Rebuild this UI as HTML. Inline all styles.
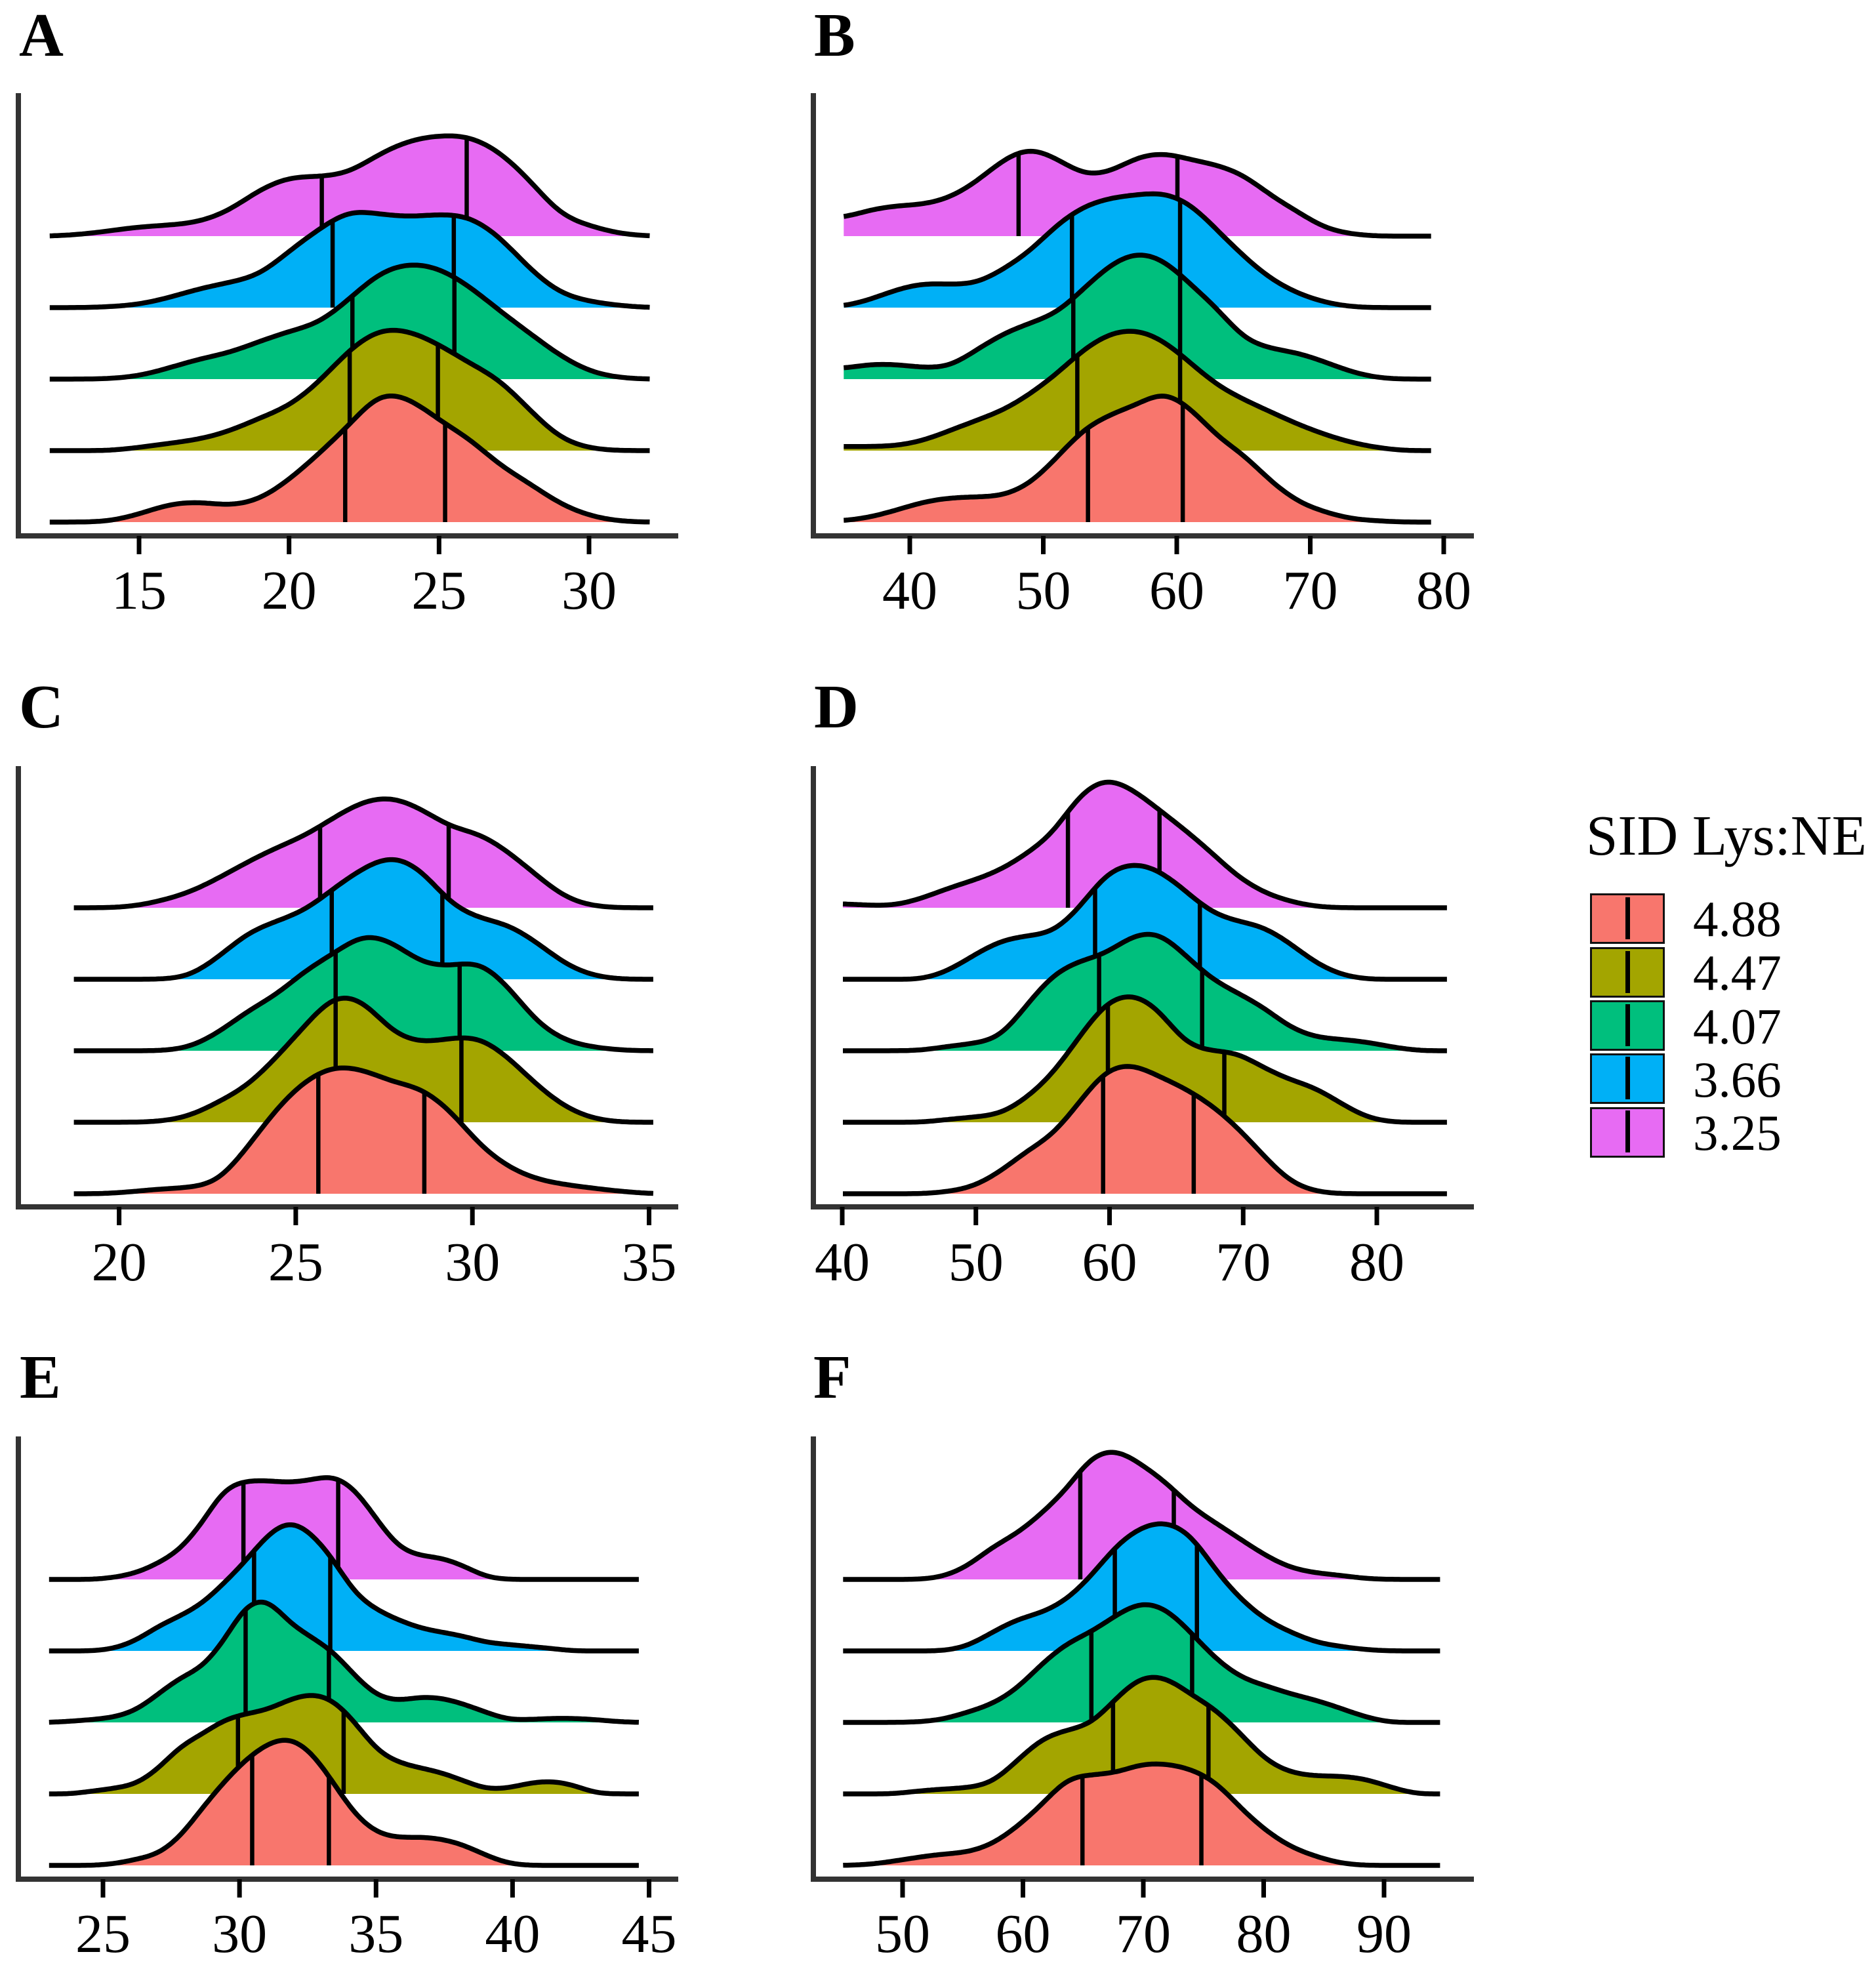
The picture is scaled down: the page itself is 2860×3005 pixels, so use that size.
<!DOCTYPE html>
<html lang="en">
<head>
<meta charset="utf-8">
<title>SID Lys:NE ridgeline panels</title>
<style>
html,body{margin:0;padding:0;background:#fff;}
svg{display:block;}
text{font-family:"Liberation Serif",serif;fill:#000;}
</style>
</head>
<body>
<svg id="chart" xmlns="http://www.w3.org/2000/svg" width="2860" height="3005" viewBox="0 0 2860 3005">
  <rect x="0" y="0" width="2860" height="3005" fill="#fff"/>
  <text x="29" y="85" font-size="94" font-weight="bold">A</text>
  <text x="1241" y="85" font-size="94" font-weight="bold">B</text>
  <text x="29" y="1109" font-size="94" font-weight="bold">C</text>
  <text x="1241" y="1109" font-size="94" font-weight="bold">D</text>
  <text x="30" y="2131" font-size="94" font-weight="bold">E</text>
  <text x="1240" y="2131" font-size="94" font-weight="bold">F</text>
  <g id="panels"></g>
  <g>
    <text x="2418" y="1303" font-size="87">SID Lys:NE</text>
    <g>
      <rect x="2425.5" y="1363.5" width="111" height="74" fill="#F8766D" stroke="#111" stroke-width="3"/>
      <rect x="2478" y="1368" width="7" height="64" fill="#000"/>
      <text x="2581" y="1427" font-size="77">4.88</text>
    </g>
    <g>
      <rect x="2425.5" y="1445.5" width="111" height="74" fill="#A3A500" stroke="#111" stroke-width="3"/>
      <rect x="2478" y="1450" width="7" height="64" fill="#000"/>
      <text x="2581" y="1509" font-size="77">4.47</text>
    </g>
    <g>
      <rect x="2425.5" y="1526.5" width="111" height="74" fill="#00BF7D" stroke="#111" stroke-width="3"/>
      <rect x="2478" y="1531" width="7" height="64" fill="#000"/>
      <text x="2581" y="1591" font-size="77">4.07</text>
    </g>
    <g>
      <rect x="2425.5" y="1607.5" width="111" height="74" fill="#00B0F6" stroke="#111" stroke-width="3"/>
      <rect x="2478" y="1611" width="7" height="65" fill="#000"/>
      <text x="2581" y="1672" font-size="77">3.66</text>
    </g>
    <g>
      <rect x="2425.5" y="1689.5" width="111" height="74" fill="#E76BF3" stroke="#111" stroke-width="3"/>
      <rect x="2478" y="1693" width="7" height="64" fill="#000"/>
      <text x="2581" y="1753" font-size="77">3.25</text>
    </g>
  </g>
</svg>
<script>
// Series (drawn back to front) and colours
const seriesLabels = ['3.25', '3.66', '4.07', '4.47', '4.88'];
const seriesColors = ['#E76BF3', '#00B0F6', '#00BF7D', '#A3A500', '#F8766D'];

// Panel A: ridge heights on an even grid from aRange[0] to aRange[1]
const aRange = [12, 32];
const aTicks = [15, 20, 25, 30];
const aH325 = [0,4,13,23,27,35,63,115,146,146,156,203,236,248,246,208,138,53,25,6,0];
const aH366 = [0,0,2,8,25,47,62,80,140,195,240,230,223,230,225,175,95,35,15,5,0];
const aH407 = [0,0,1,8,28,50,65,93,118,138,198,263,286,273,228,168,113,58,18,3,0];
const aH447 = [0,0,0,8,18,28,48,80,110,170,250,300,295,260,215,175,100,30,5,0,0];
const aH488 = [0,0,2,20,45,50,40,55,105,170,240,320,305,250,205,140,95,45,15,2,0];
const aQuartiles = [[21.07,25.9],[21.43,25.47],[22.09,25.49],[22.0,24.94],[21.85,25.18]];

// Panel B
const bRange = [35, 79];
const bTicks = [40, 50, 60, 70, 80];
const bH325 = [45,65,75,78,95,135,190,218,190,150,158,195,205,188,175,150,100,60,20,5,0,0,0];
const bH366 = [3,20,45,60,57,60,95,140,205,250,270,278,283,255,190,125,70,35,13,2,0,0,0];
const bH407 = [26,37,36,28,31,73,113,138,163,223,283,313,293,233,173,98,75,65,43,18,3,0,0];
const bH447 = [10,10,12,25,50,75,100,140,190,250,290,298,270,215,160,125,95,65,40,20,7,0,0];
const bH488 = [3,12,30,50,60,62,65,95,160,230,265,290,322,280,210,165,100,50,25,8,3,0,0];
const bQuartiles = [[48.1,60.0],[52.1,60.2],[52.2,60.2],[52.5,60.2],[53.3,60.4]];

// Panel C
const cRange = [18.7, 35.1];
const cTicks = [20, 25, 30, 35];
const cH325 = [0,0,3,17,38,73,113,148,178,223,263,273,243,198,183,138,78,23,3,0,0];
const cH366 = [0,0,0,0,7,55,115,143,170,225,275,305,270,185,150,135,90,35,7,0,0];
const cH407 = [0,0,0,0,8,45,98,138,198,241,288,268,215,208,221,158,68,23,8,1,0];
const cH447 = [0,0,0,2,15,50,90,160,240,315,300,220,195,207,210,160,90,35,7,0,0];
const cH488 = [0,0,5,12,15,30,115,210,280,315,305,275,260,205,120,65,35,22,13,5,0];
const cQuartiles = [[25.67,29.31],[26.0,29.13],[26.11,29.62],[26.11,29.67],[25.62,28.62]];

// Panel D
const dRange = [40, 85.2];
const dTicks = [40, 50, 60, 70, 80];
const dH325 = [10,6,6,23,48,68,93,133,183,278,320,293,243,193,138,78,38,16,3,0,0,0,0,0];
const dH366 = [0,0,0,0,20,60,95,107,115,175,260,287,270,220,165,143,130,90,40,10,0,0,0,0];
const dH407 = [0,0,0,1,11,18,33,113,188,221,238,283,293,238,178,143,108,58,33,28,21,8,0,0];
const dH447 = [0,0,0,0,7,13,20,60,120,210,295,318,280,195,175,172,135,105,85,45,10,0,0,0];
const dH488 = [0,0,0,0,5,18,55,105,145,225,305,320,290,260,220,165,95,30,5,0,0,0,0,0];
const dQuartiles = [[56.84,63.69],[58.87,66.71],[59.17,66.88],[59.83,68.54],[59.47,66.25]];

// Panel E
const eRange = [23, 44.6];
const eTicks = [25, 30, 35, 40, 45];
const eH325 = [0,0,0,5,16,40,73,138,223,243,243,238,245,256,223,148,78,58,53,33,6,0,0,0,0,0,0,0];
const eH366 = [0,0,0,6,26,61,86,116,166,221,286,321,291,226,141,101,76,56,46,36,21,16,11,6,0,0,0,0];
const eH407 = [0,3,7,13,30,70,110,135,200,290,305,245,210,175,115,65,53,63,60,45,25,7,7,10,10,7,2,0];
const eH447 = [0,0,7,14,24,62,117,147,182,197,207,232,247,232,177,107,77,64,52,32,12,14,27,32,22,2,0,0];
const eH488 = [0,0,0,4,15,28,70,140,205,260,300,315,280,205,125,80,68,70,65,50,25,5,0,0,0,0,0,0];
const eQuartiles = [[30.12,33.59],[30.51,33.3],[30.2,33.25],[29.92,33.79],[30.44,33.25]];

// Panel F
const fRange = [45, 94.6];
const fTicks = [50, 60, 70, 80, 90];
const fH325 = [0,0,0,0,6,32,80,113,163,223,305,320,283,238,178,138,98,58,28,16,10,2,0,0,0];
const fH366 = [0,0,0,0,0,11,46,78,94,126,186,261,306,319,286,196,126,76,46,21,11,3,0,0,0];
const fH407 = [0,0,0,1,7,25,45,83,145,195,223,265,297,280,220,155,110,90,70,55,35,13,0,0,0];
const fH447 = [0,0,0,7,12,15,27,82,137,157,172,237,290,287,244,207,147,82,52,44,44,37,17,0,0];
const fH488 = [0,2,10,20,28,32,52,95,150,215,223,228,250,250,237,205,140,85,45,22,5,0,0,0,0];
const fQuartiles = [[64.71,72.48],[67.58,74.4],[65.63,74.0],[67.43,75.36],[64.89,74.77]];

// Panel frames
const SVG_NS = 'http://www.w3.org/2000/svg';
const H_SCALE = 0.62;
const rowPitchTop = { top: 360, step: 109 };

function frame(name, left, right, x0, v0, x1, v1, axisY, axisTop, firstBase, labelY) {
  return { name, left, right, x0, v0, x1, v1, axisY, axisTop, firstBase, labelY };
}

const panelDefs = [
  { f: frame('a', 28, 1034, 213, 15, 899, 30, 817, 142, 360, 928), range: aRange, ticks: aTicks, series: [aH325, aH366, aH407, aH447, aH488], quart: aQuartiles },
  { f: frame('b', 1240, 2247, 1388, 40, 2202, 80, 817, 142, 360, 928), range: bRange, ticks: bTicks, series: [bH325, bH366, bH407, bH447, bH488], quart: bQuartiles },
  { f: frame('c', 28, 1034, 182.6, 20, 990.5, 35, 1840, 1168, 1384, 1952), range: cRange, ticks: cTicks, series: [cH325, cH366, cH407, cH447, cH488], quart: cQuartiles },
  { f: frame('d', 1240, 2247, 1285, 40, 2100, 80, 1840, 1168, 1384, 1952), range: dRange, ticks: dTicks, series: [dH325, dH366, dH407, dH447, dH488], quart: dQuartiles },
  { f: frame('e', 28, 1034, 158, 25, 990.5, 45, 2865, 2190, 2408, 2976), range: eRange, ticks: eTicks, series: [eH325, eH366, eH407, eH447, eH488], quart: eQuartiles },
  { f: frame('f', 1240, 2247, 1377, 50, 2111, 90, 2865, 2190, 2408, 2976), range: fRange, ticks: fTicks, series: [fH325, fH366, fH407, fH447, fH488], quart: fQuartiles }
];

function svgEl(tag) {
  return document.createElementNS(SVG_NS, tag);
}

// Smooth density curve through the read-off heights (uniform cubic B-spline)
function heightAt(values, range, v) {
  const n = values.length - 1;
  const t = Math.max(0, Math.min(n, (v - range[0]) / (range[1] - range[0]) * n));
  const i = Math.min(n - 1, Math.floor(t));
  const u = t - i;
  const p0 = values[Math.max(0, i - 1)];
  const p1 = values[i];
  const p2 = values[i + 1];
  const p3 = values[Math.min(n, i + 2)];
  const b0 = (1 - u) * (1 - u) * (1 - u) / 6;
  const b1 = (3 * u * u * u - 6 * u * u + 4) / 6;
  const b2 = (-3 * u * u * u + 3 * u * u + 3 * u + 1) / 6;
  const b3 = u * u * u / 6;
  return Math.max(0, b0 * p0 + b1 * p1 + b2 * p2 + b3 * p3);
}

const panelsRoot = document.getElementById('panels');

panelDefs.forEach(function (def) {
  const f = def.f;
  const xScale = function (v) { return f.x0 + (v - f.v0) * (f.x1 - f.x0) / (f.v1 - f.v0); };
  const g = svgEl('g');
  
  
  panelsRoot.appendChild(g);

  def.series.forEach(function (values, s) {
    const base = f.firstBase + s * rowPitchTop.step;
    const yScale = function (h) { return base - h * H_SCALE; };
    const samples = (values.length - 1) * 12;
    let line = '';
    for (let k = 0; k <= samples; k++) {
      const v = def.range[0] + (def.range[1] - def.range[0]) * k / samples;
      line += (k ? 'L' : 'M') + xScale(v).toFixed(1) + ' ' + yScale(heightAt(values, def.range, v)).toFixed(1);
    }
    const group = svgEl('g');
    
    

    const area = svgEl('path');
    
    
    area.setAttribute('d', line + 'L' + xScale(def.range[1]).toFixed(1) + ' ' + base + 'L' + xScale(def.range[0]).toFixed(1) + ' ' + base + 'Z');
    area.setAttribute('fill', seriesColors[s]);
    group.appendChild(area);

    const curve = svgEl('path');
    
    
    curve.setAttribute('d', line);
    curve.setAttribute('fill', 'none');
    curve.setAttribute('stroke', '#000');
    curve.setAttribute('stroke-width', '7.5');
    curve.setAttribute('stroke-linejoin', 'round');
    group.appendChild(curve);

    def.quart[s].forEach(function (q) {
      const mark = svgEl('line');
      
      
      mark.setAttribute('x1', xScale(q));
      mark.setAttribute('x2', xScale(q));
      mark.setAttribute('y1', base);
      mark.setAttribute('y2', yScale(heightAt(values, def.range, q)));
      mark.setAttribute('stroke', '#000');
      mark.setAttribute('stroke-width', '6.5');
      group.appendChild(mark);
    });
    g.appendChild(group);
  });

  const yAxis = svgEl('line');
  
  
  yAxis.setAttribute('x1', f.left);
  yAxis.setAttribute('x2', f.left);
  yAxis.setAttribute('y1', f.axisTop);
  yAxis.setAttribute('y2', f.axisY + 4);
  yAxis.setAttribute('stroke', '#333');
  yAxis.setAttribute('stroke-width', '8');
  g.appendChild(yAxis);

  const xAxis = svgEl('line');
  
  
  xAxis.setAttribute('x1', f.left - 4);
  xAxis.setAttribute('x2', f.right);
  xAxis.setAttribute('y1', f.axisY);
  xAxis.setAttribute('y2', f.axisY);
  xAxis.setAttribute('stroke', '#333');
  xAxis.setAttribute('stroke-width', '8');
  g.appendChild(xAxis);

  def.ticks.forEach(function (t) {
    const tick = svgEl('line');
    
    
    tick.setAttribute('x1', xScale(t) - 1);
    tick.setAttribute('x2', xScale(t) - 1);
    tick.setAttribute('y1', f.axisY);
    tick.setAttribute('y2', f.axisY + 28);
    tick.setAttribute('stroke', '#000');
    tick.setAttribute('stroke-width', '7');
    g.appendChild(tick);

    const label = svgEl('text');
    
    
    label.setAttribute('x', xScale(t) - 1);
    label.setAttribute('y', f.labelY);
    label.setAttribute('text-anchor', 'middle');
    label.setAttribute('font-size', '84');
    label.textContent = String(t);
    g.appendChild(label);
  });
});
</script>
</body>
</html>
